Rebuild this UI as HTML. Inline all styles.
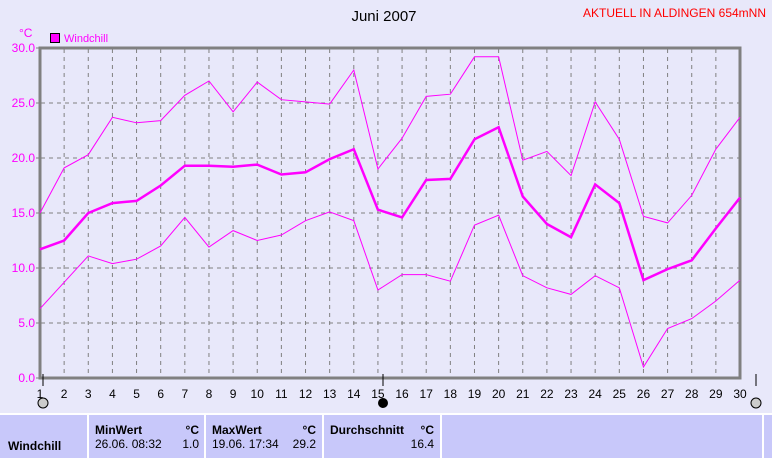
<!DOCTYPE html>
<html><head><meta charset="utf-8"><style>
body{margin:0;width:772px;height:458px;background:#e8e8fa;overflow:hidden;font-family:"Liberation Sans",sans-serif;position:relative}
.t{position:absolute;font-size:12px;white-space:nowrap}
</style></head><body>
<svg id="s" width="772" height="458" style="position:absolute;left:0;top:0" font-family="Liberation Sans, sans-serif"></svg>
<script>
const s=document.getElementById('s');
const mx=[15.0,19.1,20.3,23.7,23.2,23.4,25.7,27.0,24.2,26.9,25.3,25.1,24.9,28.0,19.0,21.8,25.6,25.8,29.2,29.2,19.8,20.6,18.4,25.1,21.7,14.7,14.1,16.6,20.8,23.7];
const av=[11.7,12.5,15.0,15.9,16.1,17.5,19.3,19.3,19.2,19.4,18.5,18.7,19.9,20.8,15.3,14.6,18.0,18.1,21.7,22.8,16.5,14.0,12.8,17.6,15.9,8.9,9.9,10.7,13.6,16.4];
const mn=[6.3,8.7,11.1,10.4,10.8,12.0,14.6,11.9,13.4,12.5,13.0,14.3,15.1,14.3,8.0,9.4,9.4,8.8,13.9,14.8,9.3,8.2,7.6,9.3,8.2,1.0,4.5,5.4,7.0,8.9];
const X=d=>40+(d-1)*700/29, Y=v=>378-v*11;
let h='';
h+='<text x="384" y="21" font-size="15" text-anchor="middle" fill="#000">Juni 2007</text>';
h+='<text x="766" y="17" font-size="12" text-anchor="end" fill="#f00">AKTUELL IN ALDINGEN 654mNN</text>';
h+='<text x="19" y="37" font-size="12" fill="#f0f">°C</text>';
h+='<rect x="50.5" y="33.5" width="9" height="9" fill="#f0f" stroke="#000"/>';
h+='<text x="64" y="42" font-size="11" fill="#f0f">Windchill</text>';
for(let d=2;d<=29;d++)h+=`<line x1="${X(d)}" y1="49" x2="${X(d)}" y2="377" stroke="#808080" stroke-dasharray="4,4"/>`;
for(let i=1;i<6;i++)h+=`<line x1="41" y1="${Y(i*5)}" x2="739" y2="${Y(i*5)}" stroke="#808080" stroke-dasharray="4,4"/>`;
for(let i=0;i<=6;i++){h+=`<text x="35" y="${Y(i*5)+4}" font-size="12" text-anchor="end" fill="#f0f">${(i*5).toFixed(1)}</text><line x1="36" y1="${Y(i*5)}" x2="40" y2="${Y(i*5)}" stroke="#808080"/>`;}
h+='<rect x="40" y="48" width="700" height="330" fill="none" stroke="#808080" stroke-width="3"/>';
for(let d=1;d<=30;d++)h+=`<text x="${X(d)}" y="398" font-size="12" text-anchor="middle">${d}</text>`;
h+='<line x1="43" y1="374" x2="43" y2="386" stroke="#000"/><line x1="383" y1="374" x2="383" y2="386" stroke="#000"/><line x1="756" y1="374" x2="756" y2="386" stroke="#000"/>';
h+='<circle cx="43" cy="403" r="5" fill="#ccc" stroke="#000"/><circle cx="383" cy="403" r="5" fill="#000"/><circle cx="756" cy="403" r="5" fill="#ccc" stroke="#000"/>';
const pl=(a,w)=>`<polyline fill="none" stroke="#f0f" stroke-width="${w}" points="${a.map((v,i)=>X(i+1)+','+Y(v)).join(' ')}"/>`;
h+=pl(mx,1)+pl(mn,1)+pl(av,2.5);
// table
h+='<rect x="0" y="414" width="772" height="44" fill="#c8c8fa"/><line x1="0" y1="414" x2="772" y2="414" stroke="#fff" stroke-width="2"/>';
[88,205,323,441,763].forEach(x=>h+=`<line x1="${x}" y1="414" x2="${x}" y2="458" stroke="#fff" stroke-width="2"/>`);
h+='<text x="8" y="450" font-size="12" font-weight="bold">Windchill</text>';
h+='<text x="95" y="434" font-size="12" font-weight="bold">MinWert</text><text x="199" y="434" font-size="12" font-weight="bold" text-anchor="end">°C</text>';
h+='<text x="95" y="448" font-size="12">26.06.  08:32</text><text x="199" y="448" font-size="12" text-anchor="end">1.0</text>';
h+='<text x="212" y="434" font-size="12" font-weight="bold">MaxWert</text><text x="316" y="434" font-size="12" font-weight="bold" text-anchor="end">°C</text>';
h+='<text x="212" y="448" font-size="12">19.06.  17:34</text><text x="316" y="448" font-size="12" text-anchor="end">29.2</text>';
h+='<text x="330" y="434" font-size="12" font-weight="bold">Durchschnitt</text><text x="434" y="434" font-size="12" font-weight="bold" text-anchor="end">°C</text>';
h+='<text x="434" y="448" font-size="12" text-anchor="end">16.4</text>';
s.innerHTML=h;
</script>
</body></html>
